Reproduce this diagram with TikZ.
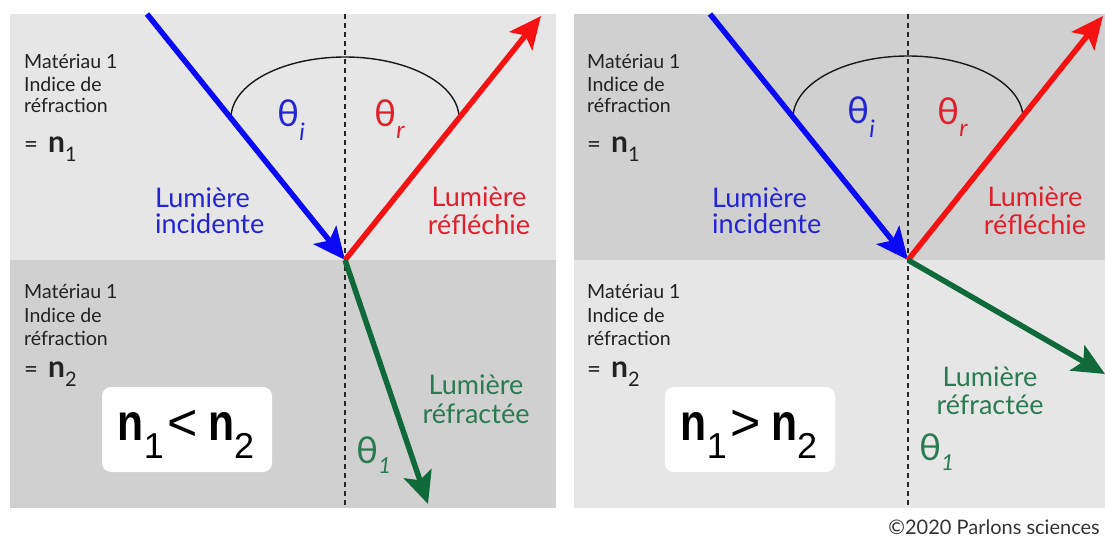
\documentclass[tikz,border=0pt]{standalone}
\usepackage{fontspec}
\setmainfont{Lato}
\newfontfamily\boxfont{Liberation Sans}
\usetikzlibrary{arrows.meta}
\definecolor{lightbg}{HTML}{E6E6E6}
\definecolor{darkbg}{HTML}{D0D0D0}
\definecolor{rayblue}{HTML}{0A0AF5}
\definecolor{rayred}{HTML}{F51212}
\definecolor{raygreen}{HTML}{10693A}
\definecolor{txtblue}{HTML}{2424D6}
\definecolor{txtred}{HTML}{E0202C}
\definecolor{txtgreen}{HTML}{2B7A52}
\definecolor{txtgray}{HTML}{222222}
\newcommand{\bn}{\scalebox{0.82}[1]{\bfseries n}}
\newcommand{\cmpsub}[1]{\raisebox{-18pt}{\fontsize{36}{36}\selectfont #1}}
\newcommand{\eqn}[1]{{\fontsize{24}{24}\selectfont =}\hspace{10pt}{\fontsize{30}{30}\selectfont\bfseries n}\raisebox{-9pt}{\fontsize{20}{20}\selectfont #1}}
\begin{document}
\begin{tikzpicture}[x=1pt,y=-1pt,
  ray/.style={line width=5.5pt,-{Stealth[length=32pt,width=29pt,inset=7pt]}},
  normalline/.style={dash pattern=on 5pt off 4pt,line width=1.3pt,black!85},
  anglearc/.style={line width=1.4pt,black!90},
  matline/.style={anchor=base west,inner sep=0pt,font=\fontsize{19.5}{19.5}\selectfont,text=txtgray},
  rayname/.style={anchor=base,inner sep=0pt,font=\fontsize{27}{27}\selectfont},
  thetalabel/.style={anchor=base west,inner sep=0pt,font=\fontsize{37}{37}\selectfont},
  cmpbox/.style={fill=white,rounded corners=9pt,minimum width=170pt,minimum height=85pt,inner sep=0pt},
  cmptext/.style={anchor=base,inner sep=0pt,font=\boxfont\fontsize{52}{52}\selectfont,text=black},
]
\useasboundingbox (0,0) rectangle (1105,538);
% backgrounds
\fill[lightbg] (10,14) rectangle (556,260);
\fill[darkbg] (10,260) rectangle (556,508);
\fill[darkbg] (574,14) rectangle (1105,260);
\fill[lightbg] (574,260) rectangle (1105,508);

% ---------- left panel ----------
\coordinate (O1) at (345,260);
\coordinate (N1t) at (345,14);
\coordinate (N1b) at (345,508);
\coordinate (B1) at (147,14);
\coordinate (R1) at (541,16);
\coordinate (G1) at (428,504);
\draw[normalline] (N1t) -- (N1b);
\draw[anglearc] plot[domain=0:180,samples=90] ({345+114*cos(\x)},{118-61*sin(\x)});
\draw[ray,rayblue] (B1) -- (O1);
\draw[ray,rayred] (O1) -- (R1);
\draw[ray,raygreen] (O1) -- (G1);

\node[matline] (m1a) at (24,68) {Matériau 1};
\node[matline] (m1b) at (24,91) {Indice de};
\node[matline] (m1c) at (24,112) {réfraction};
\node[matline] (m1d) at (24,152) {\eqn{1}};
\node[matline] (m2a) at (24,298) {Matériau 1};
\node[matline] (m2b) at (24,322) {Indice de};
\node[matline] (m2c) at (24,345) {réfraction};
\node[matline] (m2d) at (24,377) {\eqn{2}};

\node[rayname,text=txtblue,anchor=base west] (inc1a) at (155,207) {Lumière};
\node[rayname,text=txtblue,anchor=base west] (inc1b) at (155,233) {incidente};
\node[rayname,text=txtred] (ref1a) at (479,206) {Lumière};
\node[rayname,text=txtred] (ref1b) at (479,234) {réfléchie};
\node[rayname,text=txtgreen] (rfr1a) at (476,394) {Lumière};
\node[rayname,text=txtgreen] (rfr1b) at (476,423) {réfractée};

\node[thetalabel,text=txtblue] (ti1) at (277,126) {θ\raisebox{-14pt}{\fontsize{24}{24}\selectfont\itshape i}};
\node[thetalabel,text=txtred] (tr1) at (374,126) {θ\raisebox{-12pt}{\fontsize{24}{24}\selectfont\itshape r}};
\node[thetalabel,text=txtgreen] (tg1) at (356,463) {θ\raisebox{-10pt}{\fontsize{22}{22}\selectfont\itshape 1}};

\node[cmpbox] (box1) at (187,429.5) {};
\node[cmptext] (cmp1) at (186,440) {\bn\cmpsub{1}\hspace{4pt}<\hspace{10pt}\bn\cmpsub{2}};

% ---------- right panel ----------
\coordinate (O2) at (908,260);
\coordinate (N2t) at (908,14);
\coordinate (N2b) at (908,508);
\coordinate (B2) at (710,14);
\coordinate (R2) at (1103,16);
\coordinate (G2) at (1105,374);
\draw[normalline] (N2t) -- (N2b);
\draw[anglearc] plot[domain=0:180,samples=90] ({908+115*cos(\x)},{118-62*sin(\x)});
\draw[ray,rayblue] (B2) -- (O2);
\draw[ray,rayred] (O2) -- (R2);
\draw[ray,raygreen] (O2) -- (G2);

\node[matline] (m3a) at (587,68) {Matériau 1};
\node[matline] (m3b) at (587,91) {Indice de};
\node[matline] (m3c) at (587,112) {réfraction};
\node[matline] (m3d) at (587,152) {\eqn{1}};
\node[matline] (m4a) at (587,298) {Matériau 1};
\node[matline] (m4b) at (587,322) {Indice de};
\node[matline] (m4c) at (587,345) {réfraction};
\node[matline] (m4d) at (587,377) {\eqn{2}};

\node[rayname,text=txtblue,anchor=base west] (inc2a) at (712,207) {Lumière};
\node[rayname,text=txtblue,anchor=base west] (inc2b) at (712,233) {incidente};
\node[rayname,text=txtred] (ref2a) at (1035,206) {Lumière};
\node[rayname,text=txtred] (ref2b) at (1035,234) {réfléchie};
\node[rayname,text=txtgreen] (rfr2a) at (990,386) {Lumière};
\node[rayname,text=txtgreen] (rfr2b) at (990,414) {réfractée};

\node[thetalabel,text=txtblue] (ti2) at (847,123) {θ\raisebox{-14pt}{\fontsize{24}{24}\selectfont\itshape i}};
\node[thetalabel,text=txtred] (tr2) at (937,124) {θ\raisebox{-12pt}{\fontsize{24}{24}\selectfont\itshape r}};
\node[thetalabel,text=txtgreen] (tg2) at (919,460) {θ\raisebox{-10pt}{\fontsize{22}{22}\selectfont\itshape 1}};

\node[cmpbox] (box2) at (750,429.5) {};
\node[cmptext] (cmp2) at (749,440) {\bn\cmpsub{1}\hspace{4pt}>\hspace{10pt}\bn\cmpsub{2}};

\node[anchor=base east,inner sep=0pt,font=\fontsize{20}{20}\selectfont,text=black!80] (copy) at (1100,534) {©2020 Parlons sciences};
\end{tikzpicture}
\end{document}
